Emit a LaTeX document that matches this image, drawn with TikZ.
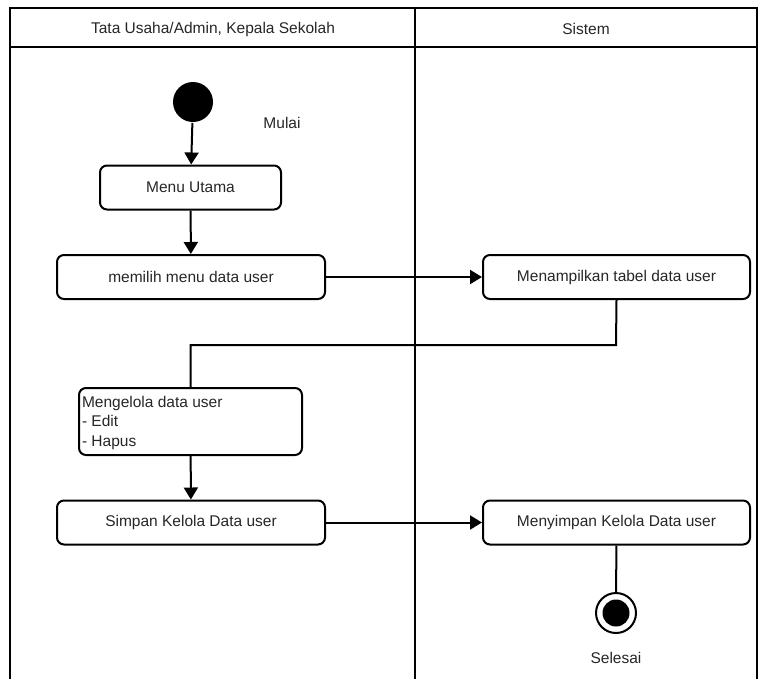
\documentclass[tikz,border=0pt]{standalone}
\usepackage{fontspec}
\setmainfont{Liberation Sans}
\usetikzlibrary{arrows.meta}
\begin{document}
\begin{tikzpicture}[x=1pt,y=-1pt,
  line width=2pt,
  txt/.style={text=black!85, font=\fontsize{15.5}{19.5}\selectfont},
  act/.style={draw, rounded corners=7pt, minimum height=44pt, txt, inner sep=0pt},
  flow/.style={-{Triangle[length=12pt,width=14pt]}}
]
\useasboundingbox (0,0) rectangle (760,678);
% swimlane frame
\draw[line width=1.6pt] (10,679) -- (10,8) -- (757,8) -- (757,679);
\draw[line width=1.6pt] (10,47) -- (757,47);
\draw[line width=1.6pt] (415,8) -- (415,679);
\node[txt] (lane1) at (213,29) {Tata Usaha/Admin, Kepala Sekolah};
\node[txt] (lane2) at (586,29) {Sistem};

% start
\node[circle, fill=black, minimum size=40pt, inner sep=0pt] (start) at (193,102) {};
\node[txt] (mulai) at (282,123) {Mulai};

% activities
\node[act, minimum width=181pt] (menu) at (190.5,187.5) {Menu Utama};
\node[act, minimum width=268pt] (pilih) at (191,277) {memilih menu data user};
\node[act, minimum width=267pt] (tampil) at (616.5,277) {Menampilkan tabel data user};
\node[draw, rounded corners=7pt, minimum width=223pt, minimum height=67pt, inner sep=0pt] (kelola) at (190.5,421.5) {};
\node[txt, anchor=north west, align=left, inner sep=0pt] (kelolatxt) at (81,395) {Mengelola data user\\- Edit\\- Hapus};
\node[act, minimum width=268pt] (simpan) at (191,522.5) {Simpan Kelola Data user};
\node[act, minimum width=267pt] (menyimpan) at (616.5,522.5) {Menyimpan Kelola Data user};

% end
\node[circle, draw, line width=2pt, minimum size=40pt, inner sep=0pt] (end) at (616,613) {};
\node[circle, fill=black, minimum size=27pt, inner sep=0pt] (endin) at (end.center) {};
\node[txt] (selesai) at (616,658) {Selesai};

% connectors
\draw[flow] (start) -- (menu);
\draw[flow] (menu) -- (pilih);
\draw[flow] (pilih) -- (tampil);
\coordinate (bend) at (616,345);
\draw (tampil.south) -- (bend) -| (kelola.north);
\draw[flow] (kelola) -- (simpan);
\draw[flow] (simpan) -- (menyimpan);
\draw (menyimpan) -- (end);
\end{tikzpicture}
\end{document}
